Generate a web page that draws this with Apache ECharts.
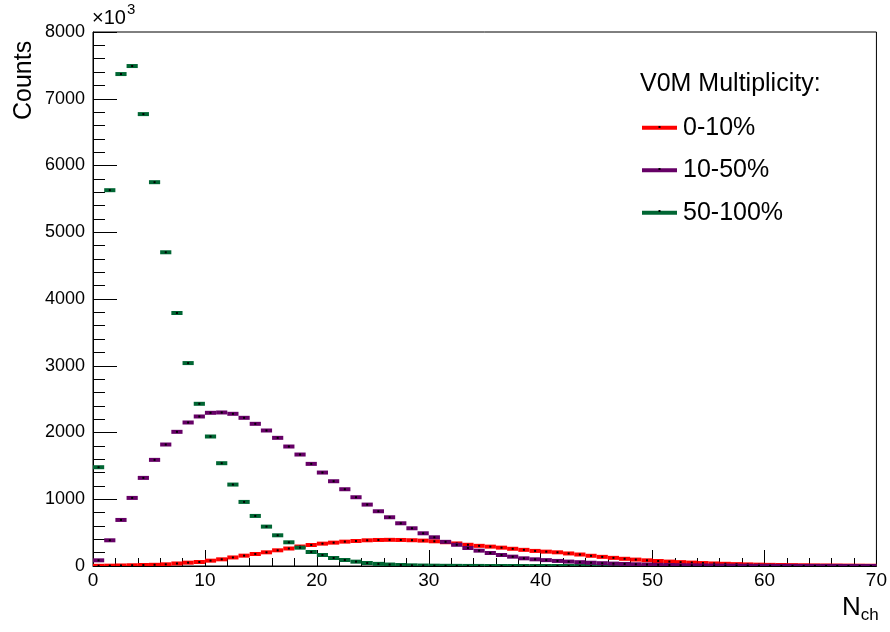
<!DOCTYPE html>
<html>
<head>
<meta charset="utf-8">
<script src="https://cdn.jsdelivr.net/npm/echarts@6/dist/echarts.min.js"></script>
<style>
  html, body { margin: 0; padding: 0; background: #fff; }
  #chart { width: 890px; height: 632px; }
</style>
</head>
<body>
<div id="chart"></div>
<script>
// Charged-particle multiplicity per V0M class, counts in units of 10^3, one value per unit bin (0..69)
const seriesNames = ['0-10%', '10-50%', '50-100%'];
const seriesColors = ['#ff0000', '#660066', '#006633'];

const counts0to10 = [
  3, 5, 8, 11, 15, 18, 25, 38, 50, 60,
  80, 100, 128, 155, 180, 205, 235, 262, 292, 315,
  335, 350, 365, 375, 385, 390, 392, 390, 386, 380,
  370, 356, 338, 318, 302, 290, 275, 258, 242, 226,
  215, 205, 188, 172, 153, 137, 122, 108, 96, 85,
  75, 66, 58, 51, 44, 38, 33, 28, 24, 20,
  17, 15, 13, 11, 9, 8, 7, 6, 5, 4
];

const counts10to50 = [
  85, 385, 690, 1020, 1320, 1590, 1820, 2010, 2150, 2240,
  2295, 2300, 2280, 2220, 2130, 2030, 1920, 1790, 1670, 1530,
  1400, 1270, 1150, 1030, 920, 820, 730, 640, 565, 490,
  430, 362, 318, 270, 230, 195, 165, 140, 115, 100,
  88, 76, 66, 57, 49, 42, 36, 31, 26, 22,
  18, 15, 12, 10, 8, 7, 6, 5, 4, 3,
  3, 2, 2, 1, 1, 1, 1, 0, 0, 0
];

const counts50to100 = [
  1480, 5630, 7370, 7490, 6770, 5750, 4700, 3790, 3040, 2430,
  1940, 1540, 1220, 960, 750, 590, 460, 355, 275, 210,
  165, 120, 90, 65, 45, 32, 22, 15, 10, 7,
  5, 3, 2, 1, 1, 0, 0, 0, 0, 0,
  0, 0, 0, 0, 0, 0, 0, 0, 0, 0,
  0, 0, 0, 0, 0, 0, 0, 0, 0, 0,
  0, 0, 0, 0, 0, 0, 0, 0, 0, 0
];

const yTicks = [0, 1000, 2000, 3000, 4000, 5000, 6000, 7000, 8000];
const xTicks = [0, 10, 20, 30, 40, 50, 60, 70];

// bins are one unit wide; each value sits at its bin centre
function toBins(values) {
  return values.map((v, i) => [i + 0.5, v]);
}

function binRenderer(color) {
  return function (params, api) {
    const x = api.value(0);
    const y = api.value(1);
    const left = api.coord([x - 0.5, y]);
    const right = api.coord([x + 0.5, y]);
    const mid = api.coord([x, y]);
    return {
      type: 'group',
      children: [
        {
          type: 'rect',
          shape: { x: left[0], y: left[1] - 2, width: right[0] - left[0], height: 4 },
          style: { fill: color }
        },
        {
          type: 'rect',
          shape: { x: mid[0] - 1, y: mid[1] - 1, width: 2, height: 2 },
          style: { fill: '#000' }
        }
      ]
    };
  };
}

const allCounts = [counts0to10, counts10to50, counts50to100];
const drawOrder = [0, 2, 1];

const font = 'Liberation Sans, Arial, Helvetica, sans-serif';

// small black marker dots in the middle of each legend line sample
const legendDotY = [127, 169, 211];
const legendDots = legendDotY.map(y => ({
  type: 'rect', z: 100,
  shape: { x: 658.5, y: y - 1, width: 2, height: 2 },
  style: { fill: '#000' }
}));

const chart = echarts.init(document.getElementById('chart'), null, { renderer: 'canvas' });

chart.setOption({
  animation: false,
  backgroundColor: '#ffffff',
  grid: {
    left: 93, right: 12, top: 32, bottom: 66,
    show: true, borderColor: '#000', borderWidth: 1, backgroundColor: 'transparent'
  },
  xAxis: {
    type: 'value',
    min: xTicks[0], max: xTicks[xTicks.length - 1], interval: 10,
    axisLine: { show: true, onZero: false, lineStyle: { color: '#000', width: 1 } },
    axisTick: { show: true, inside: true, length: 16, lineStyle: { color: '#000', width: 1 } },
    minorTick: { show: true, splitNumber: 5, length: 8, lineStyle: { color: '#000', width: 1 } },
    splitLine: { show: false },
    axisLabel: { color: '#000', fontFamily: font, fontSize: 19, margin: 5, formatter: v => String(v) }
  },
  yAxis: {
    type: 'value',
    min: yTicks[0], max: yTicks[yTicks.length - 1], interval: 1000,
    axisLine: { show: true, onZero: false, lineStyle: { color: '#000', width: 1 } },
    axisTick: { show: true, inside: true, length: 24, lineStyle: { color: '#000', width: 1 } },
    minorTick: { show: true, splitNumber: 5, length: 12, lineStyle: { color: '#000', width: 1 } },
    splitLine: { show: false },
    axisLabel: { color: '#000', fontFamily: font, fontSize: 18, margin: 8, formatter: v => String(v) }
  },
  legend: {
    show: true,
    orient: 'vertical',
    left: 642, top: 115,
    padding: 0,
    itemWidth: 35, itemHeight: 4,
    itemGap: 17,
    icon: 'rect',
    data: seriesNames,
    textStyle: { color: '#000', fontFamily: font, fontSize: 25, lineHeight: 25.5, padding: [0, 0, 0, 1] }
  },
  graphic: [
    {
      type: 'text', left: 640, top: 72,
      style: { text: 'V0M Multiplicity:', fill: '#000', font: '25px ' + font }
    },
    {
      type: 'text', x: 12, y: 120, rotation: Math.PI / 2,
      style: { text: 'Counts', fill: '#000', font: '25px ' + font, textVerticalAlign: 'top' }
    },
    {
      type: 'text', left: 842, top: 595,
      style: {
        text: '{n|N}{s|ch}', fill: '#000',
        rich: {
          n: { fontFamily: font, fontSize: 26, fill: '#000' },
          s: { fontFamily: font, fontSize: 17, fill: '#000', padding: [15, 0, 0, 0] }
        }
      }
    },
    {
      type: 'text', left: 92, top: 2,
      style: {
        text: '{m|\u00d710}{p|3}', fill: '#000',
        rich: {
          m: { fontFamily: font, fontSize: 20, fill: '#000', padding: [9, 0, 0, 0] },
          p: { fontFamily: font, fontSize: 15, fill: '#000', padding: [0, 0, 8, 1] }
        }
      }
    }
  ].concat(legendDots),
  series: drawOrder.map(k => ({
    type: 'custom',
    name: seriesNames[k],
    color: seriesColors[k],
    clip: true,
    renderItem: binRenderer(seriesColors[k]),
    encode: { x: 0, y: 1 },
    data: toBins(allCounts[k])
  }))
});
</script>
</body>
</html>
